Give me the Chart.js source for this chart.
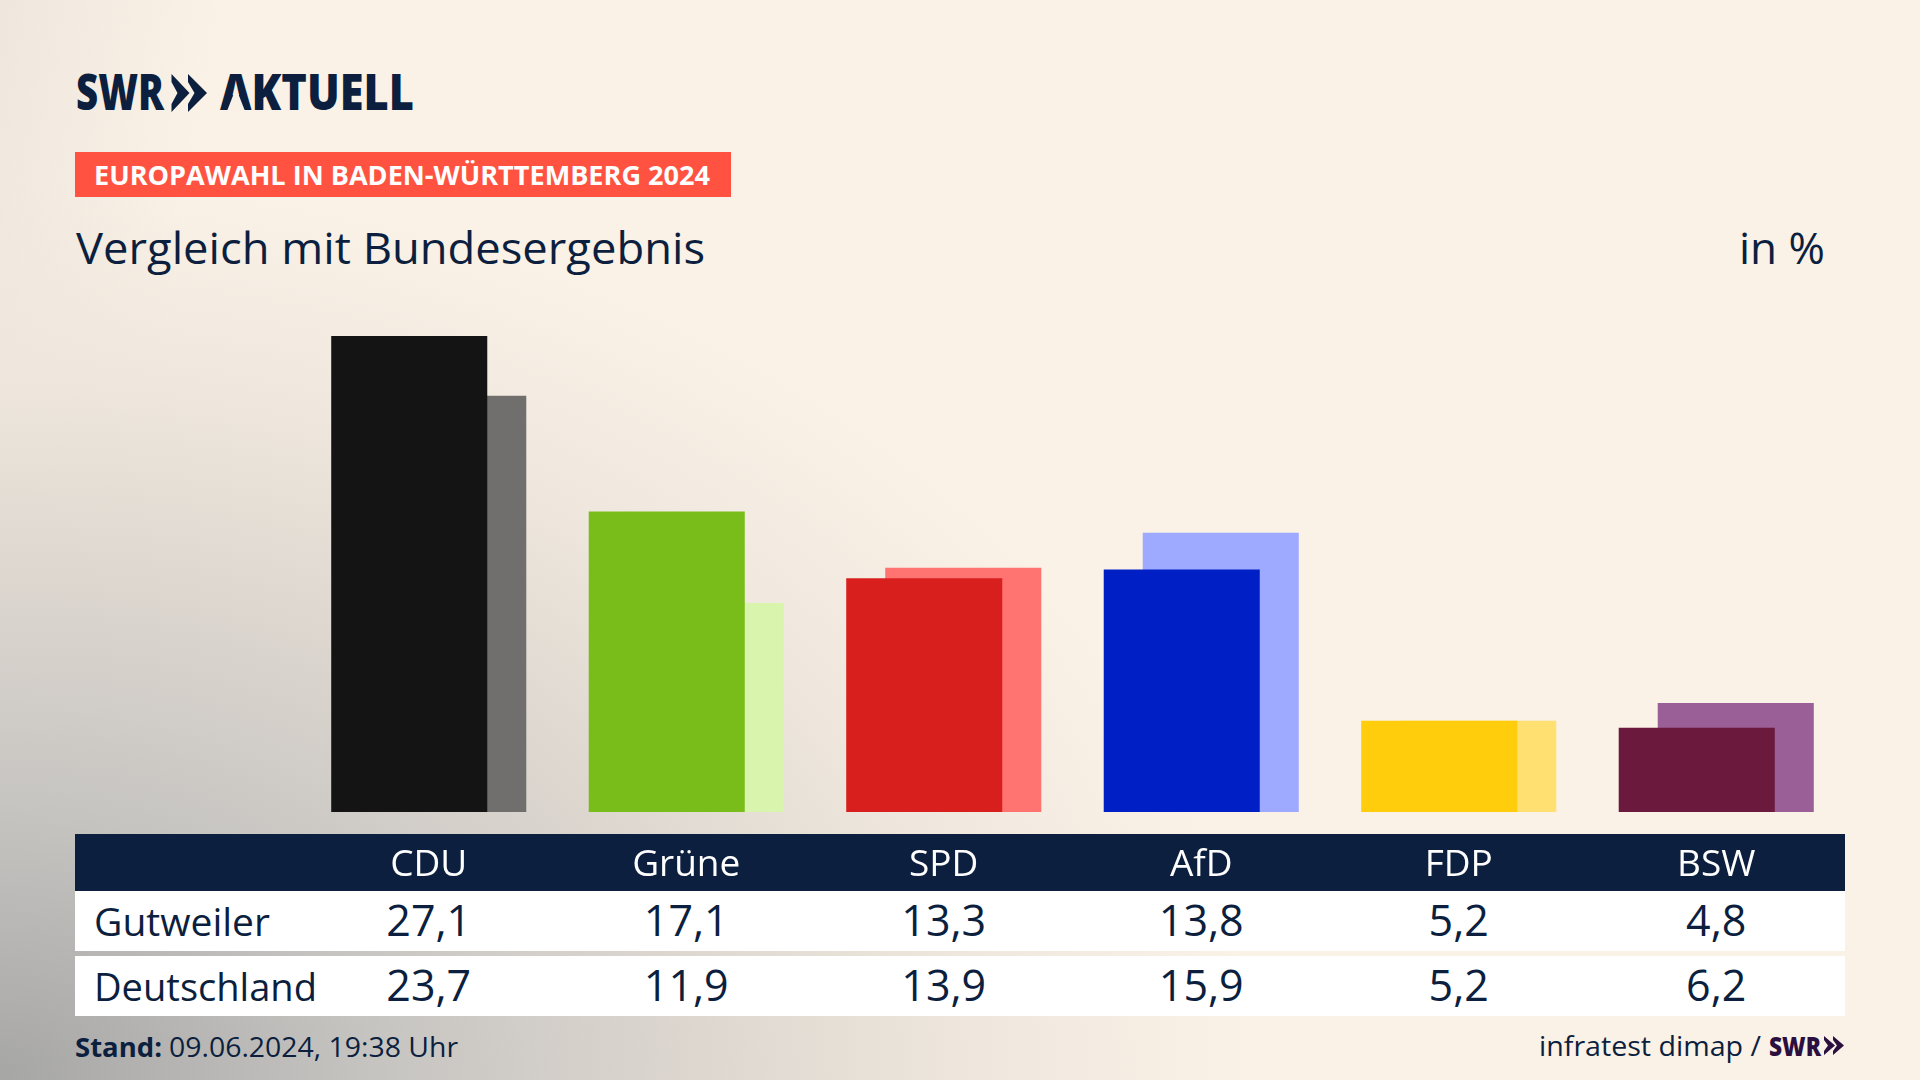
<!DOCTYPE html>
<html lang="de"><head><meta charset="utf-8">
<script src="https://cdn.jsdelivr.net/npm/chart.js@4/dist/chart.umd.min.js"></script>
<style>
html,body{margin:0;padding:0;width:1920px;height:1080px;overflow:hidden;background-color:#faf1e7}
#bg{position:absolute;left:0;top:0;width:1920px;height:1080px;background:
 radial-gradient(ellipse 1250px 900px at 0 1080px,#a6a6a5 0%,#c6c4c1 30%,#dcd6cf 55%,#efe7dd 78%,rgba(250,241,231,0) 100%),
 linear-gradient(100deg,#efe7dd 0,#faf1e7 220px)}
svg{position:absolute;left:0;top:0}
canvas{position:absolute;left:0;top:0}
text{font-family:"Open Sans",sans-serif;fill:#0c1f3e}
</style></head><body>
<div id="bg"></div>
<svg id="ov" width="1920" height="1080" xmlns="http://www.w3.org/2000/svg">
 <g id="logo">
  <text x="76" y="110" font-size="49" font-weight="800" textLength="88" lengthAdjust="spacingAndGlyphs">SWR</text>
  <polygon fill="#0c1f3e" points="171.5,74 189.5,93 171.5,112 171.5,104 177.5,93 171.5,82"/>
  <polygon fill="#0c1f3e" points="188,74 207,93 188,112 188,104 194.5,93 188,82"/>
  <text x="220" y="110" font-size="49" font-weight="800" textLength="194" lengthAdjust="spacingAndGlyphs">AKTUELL</text>
  <polygon fill="#f9f0e6" points="236,88 245,111 227,111"/>
 </g>
 <rect x="75" y="152" width="656" height="45" fill="#ff5240"/>
 <text x="94" y="185" font-size="27" font-weight="700" style="fill:#fff" textLength="616" lengthAdjust="spacingAndGlyphs">EUROPAWAHL IN BADEN-WÜRTTEMBERG 2024</text>
 <text x="76" y="264" font-size="44" textLength="629" lengthAdjust="spacingAndGlyphs">Vergleich mit Bundesergebnis</text>
 <text x="1739" y="264" font-size="44" textLength="86" lengthAdjust="spacingAndGlyphs">in %</text>
 <rect x="75" y="834" width="1770" height="57" fill="#0c1f3e"/>
 <rect x="75" y="891" width="1770" height="60" fill="#fff"/>
 <rect x="75" y="956" width="1770" height="60" fill="#fff"/>
 <g id="rows"></g>
 <text x="75" y="1057" font-size="27" font-weight="700" textLength="87" lengthAdjust="spacingAndGlyphs">Stand:</text>
 <text x="169" y="1057" font-size="27" textLength="289" lengthAdjust="spacingAndGlyphs">09.06.2024, 19:38 Uhr</text>
 <text x="1539" y="1056" font-size="28" textLength="222" lengthAdjust="spacingAndGlyphs">infratest dimap /</text>
 <text x="1769" y="1056" font-size="27" font-weight="800" style="fill:#2a0f3f" textLength="52" lengthAdjust="spacingAndGlyphs">SWR</text>
 <polygon fill="#2a0f3f" points="1824,1036 1835,1045.5 1824,1055 1824,1051 1828,1045.5 1824,1040"/>
 <polygon fill="#2a0f3f" points="1833,1036 1844,1045.5 1833,1055 1833,1051 1837,1045.5 1833,1040"/>
</svg>
<canvas id="c" width="1920" height="1080" style="width:1920px;height:1080px"></canvas>
<script>
const parties = ["CDU","Grüne","SPD","AfD","FDP","BSW"];
const gutweiler = [27.1,17.1,13.3,13.8,5.2,4.8];
const deutschland = [23.7,11.9,13.9,15.9,5.2,6.2];
const frontColors = ["#141414","#79bd1a","#d81f1e","#0020c6","#ffcd0b","#6b1a3e"];
const backColors = ["#706f6e","#d9f5ad","#ff7370","#9daaff","#ffe071","#9a5f97"];
const rowNames = ["Gutweiler","Deutschland"];

const chart = new Chart(document.getElementById("c"),{
  type:"bar",
  data:{labels:parties,datasets:[
    {label:rowNames[0],data:gutweiler,backgroundColor:frontColors},
    {label:rowNames[1],data:deutschland,backgroundColor:backColors}
  ]},
  options:{
    responsive:false,animation:false,devicePixelRatio:1,
    layout:{padding:{left:300,right:75,top:285,bottom:158}},
    datasets:{bar:{categoryPercentage:0.303,barPercentage:4}},
    plugins:{legend:{display:false},tooltip:{enabled:false},title:{display:false}},
    scales:{
      x:{grid:{display:false},border:{display:false},afterFit(s){s.height=110;},
         ticks:{color:"#ffffff",padding:23,maxRotation:0,autoSkip:false,font:{family:"Open Sans",size:37}}},
      y:{display:false,min:0,max:30}
    }
  }
});
const NS="http://www.w3.org/2000/svg", g=document.getElementById("rows");
function t(str,x,y,size,anchor,len){const e=document.createElementNS(NS,"text");e.textContent=str;
  e.setAttribute("x",x);e.setAttribute("y",y);e.setAttribute("font-size",size);e.setAttribute("text-anchor",anchor);
  if(len){e.setAttribute("textLength",len);e.setAttribute("lengthAdjust","spacingAndGlyphs");}g.appendChild(e);}
const fmt=v=>v.toFixed(1).replace(".",",");
const nameWidths=[176,223];
[[gutweiler,936],[deutschland,1001]].forEach(([arr,y],r)=>{
  t(rowNames[r],94,y,38,"start",nameWidths[r]);
  arr.forEach((v,i)=>t(fmt(v),chart.scales.x.getPixelForTick(i),y,43,"middle"));
});
</script>
</body></html>
